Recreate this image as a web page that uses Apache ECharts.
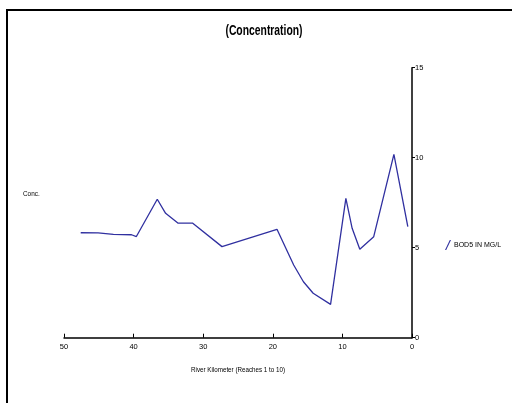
<!DOCTYPE html>
<html><head><meta charset="utf-8">
<script src="https://cdn.jsdelivr.net/npm/echarts@6/dist/echarts.min.js"></script>
<style>html,body{margin:0;padding:0;background:#fff}#c{width:512px;height:403px}</style>
</head><body><div id="c"></div>
<script>
const riverKm = [47.6, 45.1, 42.9, 40.3, 39.6, 36.6, 35.4, 33.6, 31.5, 27.3, 19.4, 17.0, 15.6, 14.2, 11.7, 9.5, 8.6, 7.5, 5.5, 2.6, 0.6];
const bod5 = [5.83, 5.82, 5.74, 5.72, 5.62, 7.69, 6.91, 6.36, 6.36, 5.06, 6.02, 4.04, 3.11, 2.47, 1.85, 7.74, 6.08, 4.91, 5.61, 10.19, 6.17];
const seriesName = 'BOD5 IN MG/L';
const titleText = '(Concentration)';
const xName = 'River Kilometer (Reaches 1 to 10)';
const yName = 'Conc.';
const FONT = "'Liberation Sans', Arial, sans-serif";
const LINE = '#3030a0';

const chart = echarts.init(document.getElementById('c'));
chart.setOption({
  animation: false,
  backgroundColor: '#fff',
  grid: { left: 64, right: 100, top: 67.7, bottom: 65.3 },
  legend: { left: 440, top: 235, itemWidth: 6, itemHeight: 10, itemGap: 4,
    icon: 'path://M0,10 L1.2,10 L6,0 L4.8,0 Z',
    textStyle: { fontFamily: FONT, fontSize: 7, color: '#000', padding: [0,0,0,-2] },
    data: [{ name: seriesName, itemStyle: { color: LINE } }] },
  xAxis: { type: 'value', inverse: true, min: 0, max: 50, interval: 10,
    axisLine: { lineStyle: { color: '#000', width: 1.5 } },
    axisTick: { inside: true, length: 4, lineStyle: { color: '#000' } },
    axisLabel: { fontFamily: FONT, fontSize: 7.5, color: '#000', margin: 5 },
    splitLine: { show: false } },
  yAxis: { type: 'value', position: 'right', min: 0, max: 15, interval: 5,
    axisLine: { show: true, lineStyle: { color: '#000', width: 1.5 } },
    axisTick: { show: true, length: 3, lineStyle: { color: '#000' } },
    axisLabel: { fontFamily: FONT, fontSize: 7.5, color: '#000', margin: 3 },
    splitLine: { show: false } },
  graphic: [
    { type: 'rect', shape: { x: 7, y: 10, width: 520, height: 410 },
      style: { fill: 'none', stroke: '#000', lineWidth: 2 } },
    { type: 'text', x: 264, y: 31, scaleX: 0.74,
      style: { text: titleText, align: 'center', verticalAlign: 'middle',
        font: "bold 14px " + FONT, fill: '#000' } },
    { type: 'text', x: 238, y: 370, scaleX: 0.78,
      style: { text: xName, align: 'center', verticalAlign: 'middle',
        font: "8px " + FONT, fill: '#000' } },
    { type: 'text', x: 23, y: 194, scaleX: 0.8,
      style: { text: yName, align: 'left', verticalAlign: 'middle',
        font: "8px " + FONT, fill: '#000' } }
  ],
  series: [{ name: seriesName, type: 'line', showSymbol: false, symbol: 'none',
    lineStyle: { color: LINE, width: 1.3 }, itemStyle: { color: LINE },
    data: riverKm.map((k, i) => [k, bod5[i]]) }]
});
</script></body></html>
